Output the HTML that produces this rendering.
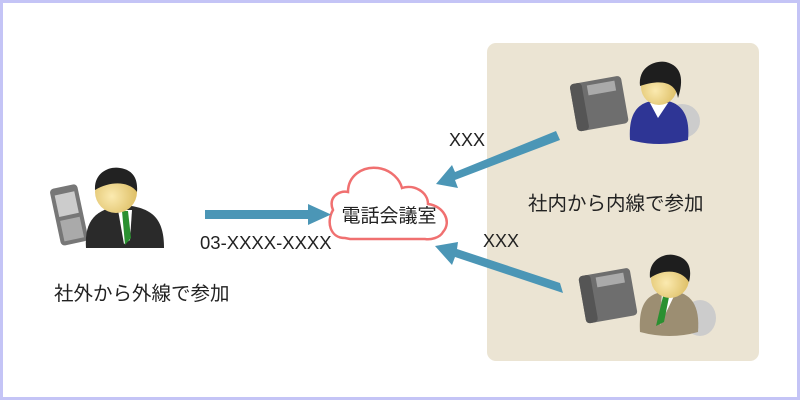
<!DOCTYPE html>
<html><head><meta charset="utf-8"><style>
body{margin:0;}
.w{position:relative;width:800px;height:400px;box-sizing:border-box;border:3px solid #c4c4f6;background:#fff;overflow:hidden;font-family:"Liberation Sans","Noto Sans CJK JP",sans-serif;}
svg{position:absolute;left:-3px;top:-3px;}
</style></head><body><div class="w">
<svg width="800" height="400" viewBox="0 0 800 400">
<defs>
<radialGradient id="face" cx="0.4" cy="0.6" r="0.7"><stop offset="0" stop-color="#fbeab0"/><stop offset="1" stop-color="#d9b85a"/></radialGradient>
</defs>
<rect x="487" y="43" width="272" height="318" rx="9" fill="#ebe4d3"/>
<!-- cloud -->
<path d="M345,238 C330,238 326,222 333,210 C328,198 338,190 348,192 C348,176 362,166 378,168 C392,170 400,180 402,188 C414,184 428,192 428,204 C444,206 452,222 443,232 C440,238 430,240 425,239 L350,239 Z" fill="#fff" stroke="#f07070" stroke-width="2.5"/>
<text x="389" y="222" font-size="19" text-anchor="middle" fill="#222">電話会議室</text>
<!-- arrows -->
<g fill="#4b96b6" stroke="none">
<rect x="205" y="210" width="106" height="9"/>
<polygon points="308,204 331,214.5 308,225"/>
<polygon points="556,131 560,140 455,180 458,188 436,184 452,165 455,172"/>
<polygon points="560,283 563,293 455,257 452,265 435,246 458,242 457,249"/>
</g>
<g fill="#222">
<text x="200" y="249" font-size="18.5">03-XXXX-XXXX</text>
<text x="449" y="146" font-size="18">XXX</text>
<text x="483" y="247" font-size="18">XXX</text>
<text x="54" y="300" font-size="19.5">社外から外線で参加</text>
<text x="528" y="210" font-size="19.5">社内から内線で参加</text>
</g>
<!-- left mobile -->
<g transform="rotate(-12 68 210)"><rect x="54" y="186" width="28" height="58" rx="4" fill="#777"/><rect x="58" y="193" width="20" height="22" fill="#ccc"/><rect x="58" y="219" width="20" height="21" fill="#aaa"/></g>
<!-- left man -->
<path d="M86,248 C84,218 98,208 125,205 C152,208 164,218 164,248 Z" fill="#2a2a2a"/>
<polygon points="118,210 132,210 130,240 124,244" fill="#fff"/>
<polygon points="122,211 128,211 131,238 125,245" fill="#2a9030"/>
<circle cx="116" cy="192" r="21" fill="url(#face)"/>
<path d="M95,190 C94,172 110,166 120,168 C134,170 138,180 137,192 C130,182 112,180 95,190Z" fill="#222"/>
<!-- top right phone -->
<g transform="rotate(-10 597 103)"><rect x="573" y="80" width="52" height="48" rx="4" fill="#6e6e6e"/><rect x="590" y="84" width="28" height="10" fill="#aaa"/><rect x="573" y="80" width="12" height="48" rx="4" fill="#555"/></g>
<!-- woman -->
<ellipse cx="682" cy="121" rx="18" ry="17" fill="#ccc"/>
<path d="M630,140 C628,110 640,100 662,100 C684,102 690,118 688,140 Q660,148 630,140Z" fill="#2e3595"/>
<polygon points="650,103 668,103 658,118" fill="#fff"/>
<circle cx="659" cy="87" r="18" fill="url(#face)"/>
<path d="M640,86 C638,66 656,60 666,62 C682,66 684,80 678,98 C676,84 664,78 640,86Z" fill="#1e1e1e"/>
<!-- bottom right phone -->
<g transform="rotate(-10 606 296)"><rect x="582" y="272" width="52" height="48" rx="4" fill="#6e6e6e"/><rect x="599" y="276" width="28" height="10" fill="#aaa"/><rect x="582" y="272" width="12" height="48" rx="4" fill="#555"/></g>
<!-- man bottom -->
<ellipse cx="700" cy="318" rx="16" ry="18" fill="#ccc"/>
<path d="M640,332 C638,300 650,292 670,291 C692,292 700,306 698,332 Q670,340 640,332Z" fill="#9c8e72"/>
<polygon points="662,292 676,292 660,325" fill="#fff"/>
<polygon points="664,292 670,292 664,322 656,326" fill="#2a9030"/>
<circle cx="670" cy="279" r="19" fill="url(#face)"/>
<path d="M650,278 C648,260 664,253 674,255 C690,258 692,270 689,282 C682,270 664,268 650,278Z" fill="#1e1e1e"/>
</svg>
</div></body></html>
